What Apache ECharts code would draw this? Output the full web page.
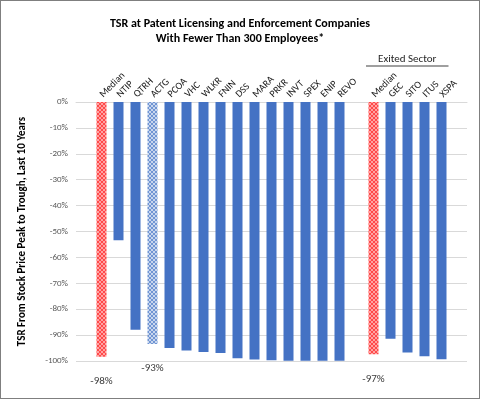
<!DOCTYPE html>
<html>
<head>
<meta charset="utf-8">
<script src="https://cdn.jsdelivr.net/npm/echarts@6/dist/echarts.min.js"></script>
<style>
html,body{margin:0;padding:0;background:#fff;}
#chart{width:480px;height:399px;box-sizing:border-box;border:1px solid #7f7f7f;}
</style>
</head>
<body>
<div id="chart"></div>
<script>
// ---- data ----
var titleLines = ['TSR at Patent Licensing and Enforcement Companies', 'With Fewer Than 300 Employees*'];
var yAxisName = 'TSR From Stock Price Peak to Trough, Last 10 Years';
var categories = ['', 'Median', 'NTIP', 'QTRH', 'ACTG', 'PCOA', 'VHC', 'WLKR', 'FNIN', 'DSS', 'MARA', 'PRKR', 'INVT', 'SPEX', 'ENIP', 'REVO', '', 'Median', 'GEC', 'SITO', 'ITUS', 'XSPA', ''];
var values = [null, -98.4, -53.4, -87.9, -93.4, -95.0, -95.9, -96.5, -96.9, -98.9, -99.4, -99.7, -99.9, -99.9, -99.9, -99.9, null, -97.4, -91.4, -96.7, -98.2, -99.3, null];
var barKinds = ['', 'median', 'solid', 'solid', 'light', 'solid', 'solid', 'solid', 'solid', 'solid', 'solid', 'solid', 'solid', 'solid', 'solid', 'solid', '', 'median', 'solid', 'solid', 'solid', 'solid', ''];
var calloutLabels = ['', '-98%', '', '', '-93%', '', '', '', '', '', '', '', '', '', '', '', '', '-97%', '', '', '', '', ''];
var exitedGroupLabel = 'Exited Sector';
var exitedFirstIndex = 17, exitedLastIndex = 21;
var yMin = -100, yMax = 0, yInterval = 10;

// ---- patterns ----
function checker(c1, c2) {
  var cv = document.createElement('canvas');
  cv.width = 4; cv.height = 4;
  var ctx = cv.getContext('2d');
  ctx.fillStyle = c2; ctx.fillRect(0, 0, 4, 4);
  ctx.fillStyle = c1; ctx.fillRect(0, 0, 2, 2); ctx.fillRect(2, 2, 2, 2);
  return {image: cv, repeat: 'repeat'};
}
var colorFor = {
  solid: '#4472C4',
  median: checker('#FF4A4A', '#FFA3A3'),
  light: checker('#7095D3', '#C8D6EE')
};

var font = 'Carlito, Lato, "Open Sans", sans-serif';
var seriesData = values.map(function (v, i) {
  if (v === null) return null;
  var item = {value: v, itemStyle: {color: colorFor[barKinds[i]]}};
  if (calloutLabels[i]) {
    item.label = {show: true, position: 'bottom', distance: 19, formatter: calloutLabels[i],
      fontFamily: font, fontSize: 11, color: '#404040'};
  }
  return item;
});

var chart = echarts.init(document.getElementById('chart'), null, {renderer: 'canvas'});
chart.setOption({
  animation: false,
  backgroundColor: '#fff',
  title: {
    text: titleLines.join('\n'),
    left: 'center', top: 10,
    textStyle: {fontFamily: font, fontSize: 12, fontWeight: 'bold', color: '#000', lineHeight: 15}
  },
  grid: {left: 75, right: 12, top: 101, bottom: 37, containLabel: false},
  xAxis: {
    type: 'category', position: 'top', data: categories,
    axisLine: {show: true, lineStyle: {color: '#d9d9d9'}},
    axisTick: {show: false},
    axisLabel: {interval: 0, rotate: 45, margin: 6, fontFamily: font, fontSize: 10, color: '#1a1a1a'}
  },
  yAxis: {
    type: 'value', min: yMin, max: yMax, interval: yInterval,
    name: yAxisName, nameLocation: 'middle', nameGap: 48, nameRotate: 90,
    nameTextStyle: {fontFamily: font, fontSize: 11, fontWeight: 'bold', color: '#000'},
    axisLine: {show: false}, axisTick: {show: false},
    axisLabel: {formatter: function (v) { return v + '%'; }, margin: 8, fontFamily: font, fontSize: 9, color: '#595959'},
    splitLine: {lineStyle: {color: '#d9d9d9'}}
  },
  series: [{
    type: 'bar', data: seriesData, barWidth: 10
  }]
});

var p1 = chart.convertToPixel({xAxisIndex: 0}, exitedFirstIndex);
var p2 = chart.convertToPixel({xAxisIndex: 0}, exitedLastIndex);
var xa = p1 - 7.5, xb = p2 + 7;
chart.setOption({
  graphic: [
    {type: 'line', shape: {x1: xa, y1: 65, x2: xb, y2: 65}, style: {stroke: '#7f7f7f', lineWidth: 1.5}},
    {type: 'text', x: (xa + xb) / 2, y: 58, style: {text: exitedGroupLabel, fontFamily: font, fontSize: 11, fill: '#262626', align: 'center', verticalAlign: 'middle'}}
  ]
});
</script>
</body>
</html>
